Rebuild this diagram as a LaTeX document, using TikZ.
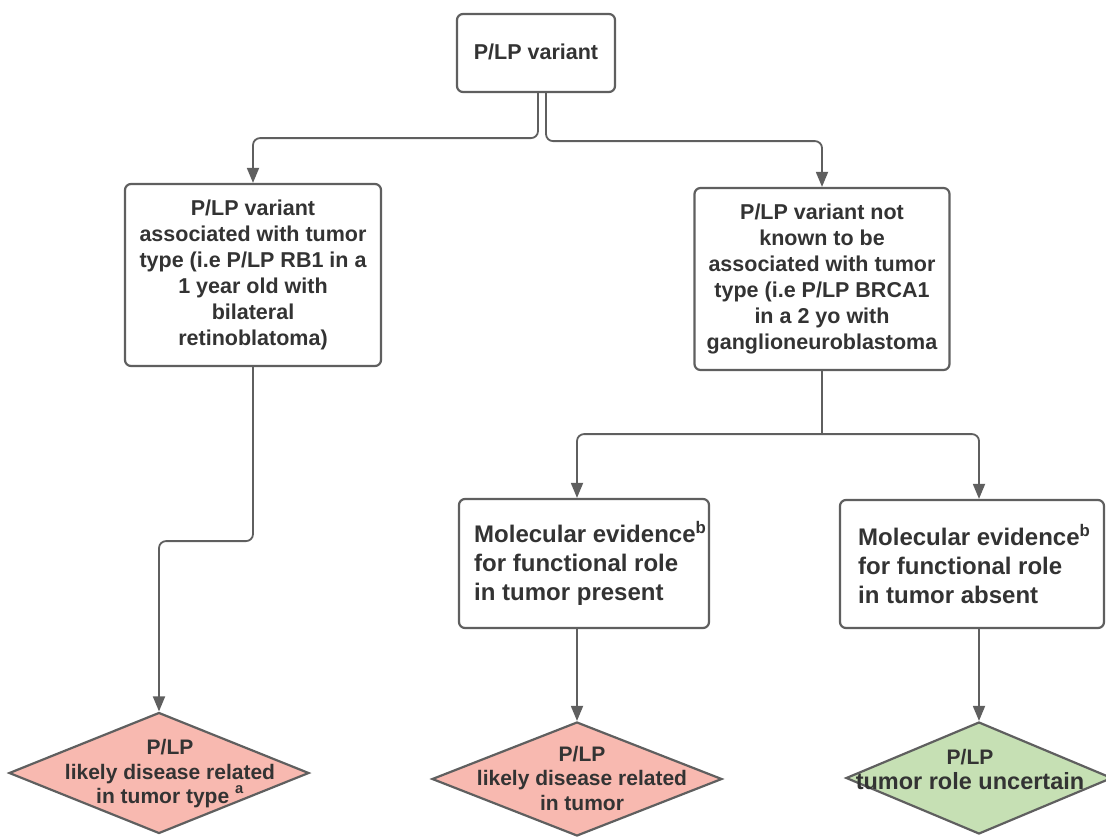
\documentclass[tikz,border=0pt]{standalone}
\usepackage{fontspec}
\setmainfont{Liberation Sans}
\usetikzlibrary{shapes.geometric,arrows.meta}
\definecolor{edgegray}{HTML}{5F5F5F}
\definecolor{txtgray}{HTML}{333333}
\definecolor{pinkfill}{HTML}{F8B9B0}
\definecolor{greenfill}{HTML}{C6E0B4}
\tikzset{
  box/.style={draw=edgegray, line width=2.2pt, rounded corners=6pt, fill=white,
    align=center, text=txtgray, inner sep=0pt,
    font=\fontsize{21.5}{26}\selectfont\bfseries},
  mbox/.style={box, align=left, font=\fontsize{24}{29}\selectfont\bfseries},
  mtext/.style={align=left, text=txtgray, inner sep=0pt,
    font=\fontsize{24}{29}\selectfont\bfseries},
  dia/.style={draw=edgegray, line width=2.2pt, shape=diamond, inner sep=0pt, shape aspect=2},
  dtext/.style={align=center, text=txtgray, inner sep=0pt,
    font=\fontsize{21}{24.5}\selectfont\bfseries},
  conn/.style={draw=edgegray, line width=1.8pt, rounded corners=7pt,
    -{Triangle[length=15pt,width=12pt]}},
  stem/.style={draw=edgegray, line width=1.8pt}
}
\begin{document}
\begin{tikzpicture}[x=1pt,y=-1pt]
\useasboundingbox (0,0) rectangle (1106,836);
% boxes
\node[box, minimum width=158pt, minimum height=78pt] (top) at (536,53) {\raisebox{3pt}{P/LP variant}};
\node[box, minimum width=256pt, minimum height=182pt] (L) at (253,275)
  {P/LP variant\\associated with tumor\\type (i.e P/LP RB1 in a\\1 year old with\\bilateral\\retinoblatoma)};
\node[box, minimum width=255pt, minimum height=182pt] (R) at (822,279)
  {P/LP variant not\\known to be\\associated with tumor\\type (i.e P/LP BRCA1\\in a 2 yo with\\ganglioneuroblastoma};
\node[mbox, minimum width=250pt, minimum height=129pt] (M1) at (584,563.5) {};
\node[mtext, anchor=west] (M1t) at (474,563.5)
  {Molecular evidence\textsuperscript{b}\\for functional role\\in tumor present};
\node[mbox, minimum width=264pt, minimum height=128pt] (M2) at (972,564) {};
\node[mtext, anchor=west] (M2t) at (858,564)
  {Molecular evidence\textsuperscript{b}\\for functional role\\in tumor absent};
% diamonds
\node[dia, fill=pinkfill, minimum width=300pt, minimum height=121pt] (D1) at (159,773) {};
\node[dtext] (D1t) at (170,774) {P/LP\\likely disease related\\in tumor type \raisebox{3pt}{\textsuperscript{a}}};
\node[dia, fill=pinkfill, minimum width=290pt, minimum height=114pt] (D2) at (577,779) {};
\node[dtext] (D2t) at (582,778) {P/LP\\likely disease related\\in tumor};
\node[dia, fill=greenfill, minimum width=266pt, minimum height=112pt] (D3) at (979,778) {};
\node[dtext, font=\fontsize{23.5}{25}\selectfont\bfseries] (D3t) at (970,769)
  {{\fontsize{21}{25}\selectfont P/LP}\\tumor role uncertain};
% connectors
\draw[conn] ([xshift=2pt]top.south) -- ++(0,45) -| (L.north);
\draw[conn] ([xshift=10pt]top.south) -- ++(0,48) -| (R.north);
\draw[conn] (L.south) -- ++(0,174) -| (D1.north);
\draw[stem] (R.south) -- ++(0,63) coordinate (split);
\draw[conn] (split) -| ([xshift=-7pt]M1.north);
\draw[conn] (split) -| ([xshift=7pt]M2.north);
\draw[conn] ([xshift=-7pt]M1.south) -- (D2.north);
\draw[conn] ([xshift=7pt]M2.south) -- (D3.north);
\end{tikzpicture}
\end{document}
